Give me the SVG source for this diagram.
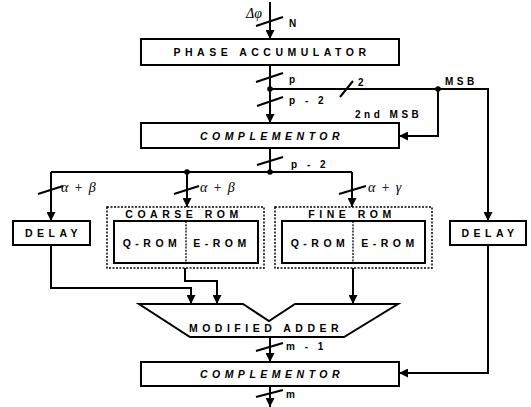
<svg xmlns="http://www.w3.org/2000/svg" width="531" height="407" viewBox="0 0 531 407">
  <defs>
    <marker id="arrow" viewBox="0 0 10 10" refX="10" refY="5" markerWidth="10" markerHeight="9" markerUnits="userSpaceOnUse" orient="auto">
      <path d="M0,0 L10,5 L0,10 z" fill="#000"/>
    </marker>
    <style>
      .box { fill: #fff; stroke: #000; stroke-width: 2; }
      .dotbox { fill: none; stroke: #000; stroke-width: 1.5; stroke-dasharray: 2 1.5; }
      .wire { fill: none; stroke: #000; stroke-width: 2; }
      .arr { marker-end: url(#arrow); }
      .tick { stroke: #000; stroke-width: 2; }
      .dot { fill: #000; }
      .lbl { font-family: "Liberation Sans", Arial, sans-serif; font-weight: bold; font-size: 10.5px; letter-spacing: 4.5px; fill: #000; }
      .ital { font-style: italic; }
      .mid { text-anchor: middle; }
      .greek { font-family: "Liberation Serif", "Times New Roman", serif; font-style: italic; font-size: 14px; word-spacing: 2px; fill: #000; }
      .small { font-family: "Liberation Sans", Arial, sans-serif; font-weight: bold; font-size: 10px; letter-spacing: 3.5px; fill: #000; }
    </style>
  </defs>

  <!-- connectors -->
  <g id="connectors">
    <!-- input word -->
    <path class="wire arr" d="M270,2 V39"/>
    <!-- accumulator to complementor -->
    <path class="wire arr" d="M270,65 V123"/>
    <!-- two top bits -->
    <path class="wire arr" d="M270,89 H488 V221"/>
    <path class="wire arr" d="M438,89 V136 H399"/>
    <!-- complementor output bus -->
    <path class="wire" d="M270,148 V172"/>
    <path class="wire" d="M51,172 H352"/>
    <path class="wire arr" d="M51,172 V221"/>
    <path class="wire arr" d="M187,172 V207"/>
    <path class="wire arr" d="M352,172 V207"/>
    <!-- into adder -->
    <path class="wire arr" d="M51,245 V288 H191 V304"/>
    <path class="wire arr" d="M185,268 V281 H217 V304"/>
    <path class="wire arr" d="M353,268 V304"/>
    <!-- adder to final complementor -->
    <path class="wire arr" d="M270,337 V362"/>
    <path class="wire arr" d="M488,245 V373 H399"/>
    <!-- output -->
    <path class="wire arr" d="M270,386 V407"/>

    <!-- bus width ticks -->
    <line class="tick" x1="256" y1="26" x2="283" y2="17"/>
    <line class="tick" x1="256" y1="82" x2="283" y2="73"/>
    <line class="tick" x1="340" y1="97" x2="353" y2="81"/>
    <line class="tick" x1="257" y1="106" x2="283" y2="97"/>
    <line class="tick" x1="257" y1="165" x2="283" y2="157"/>
    <line class="tick" x1="38" y1="194" x2="63" y2="186"/>
    <line class="tick" x1="174" y1="194" x2="199" y2="186"/>
    <line class="tick" x1="339" y1="194" x2="366" y2="186"/>
    <line class="tick" x1="256" y1="351" x2="283" y2="343"/>
    <line class="tick" x1="256" y1="397" x2="283" y2="390"/>

    <!-- junctions -->
    <circle class="dot" cx="270" cy="89" r="2.8"/>
    <circle class="dot" cx="438" cy="89" r="2.8"/>
    <circle class="dot" cx="187" cy="172" r="2.8"/>
    <circle class="dot" cx="270" cy="172" r="2.8"/>

    <!-- bus labels -->
    <text class="greek" x="246" y="18" font-size="12">Δφ</text>
    <text class="small" x="289" y="27">N</text>
    <text class="small" x="289" y="83">p</text>
    <text class="small" x="358" y="86">2</text>
    <text class="small" x="289" y="104">p - 2</text>
    <text class="small" x="445" y="85" letter-spacing="5">MSB</text>
    <text class="small" x="355" y="118" letter-spacing="4.4">2nd MSB</text>
    <text class="small" x="291" y="168">p - 2</text>
    <text class="greek" x="61" y="192">α + β</text>
    <text class="greek" x="200" y="192">α + β</text>
    <text class="greek" x="368" y="192">α + γ</text>
    <text class="small" x="286" y="350" letter-spacing="2">m - 1</text>
    <text class="small" x="286" y="398">m</text>
  </g>

  <g id="phase-accumulator">
    <rect class="box" x="141" y="39" width="258" height="26"/>
    <text class="lbl mid" x="272" y="56">PHASE ACCUMULATOR</text>
  </g>

  <g id="complementor-in">
    <rect class="box" x="141" y="123" width="258" height="25"/>
    <text class="lbl ital mid" x="272" y="140" letter-spacing="5">COMPLEMENTOR</text>
  </g>

  <g id="delay-left">
    <rect class="box" x="13" y="221" width="77" height="24"/>
    <text class="lbl mid" x="53.5" y="237">DELAY</text>
  </g>

  <g id="coarse-rom">
    <rect class="dotbox" x="107" y="207" width="157" height="61"/>
    <text class="lbl mid" x="184" y="218">COARSE ROM</text>
    <rect class="box" x="114" y="221" width="144" height="42"/>
    <line x1="186" y1="221" x2="186" y2="263" stroke="#000" stroke-width="1.3" stroke-dasharray="2 1.2"/>
    <text class="lbl mid" x="152" y="247">Q-ROM</text>
    <text class="lbl mid" x="222" y="247">E-ROM</text>
  </g>

  <g id="fine-rom">
    <rect class="dotbox" x="275" y="207" width="157" height="61"/>
    <text class="lbl mid" x="352" y="218">FINE ROM</text>
    <rect class="box" x="282" y="221" width="143" height="42"/>
    <line x1="353" y1="221" x2="353" y2="263" stroke="#000" stroke-width="1.3" stroke-dasharray="2 1.2"/>
    <text class="lbl mid" x="320" y="247">Q-ROM</text>
    <text class="lbl mid" x="390" y="247">E-ROM</text>
  </g>

  <g id="delay-right">
    <rect class="box" x="450" y="221" width="76" height="24"/>
    <text class="lbl mid" x="490" y="237">DELAY</text>
  </g>

  <g id="modified-adder">
    <polygon class="box" points="139,304 243,304 269,321 295,304 398,304 344,337 190,337"/>
    <text class="lbl mid" x="266" y="332">MODIFIED ADDER</text>
  </g>

  <g id="complementor-out">
    <rect class="box" x="141" y="362" width="258" height="24"/>
    <text class="lbl ital mid" x="272" y="378" letter-spacing="5">COMPLEMENTOR</text>
  </g>
</svg>
